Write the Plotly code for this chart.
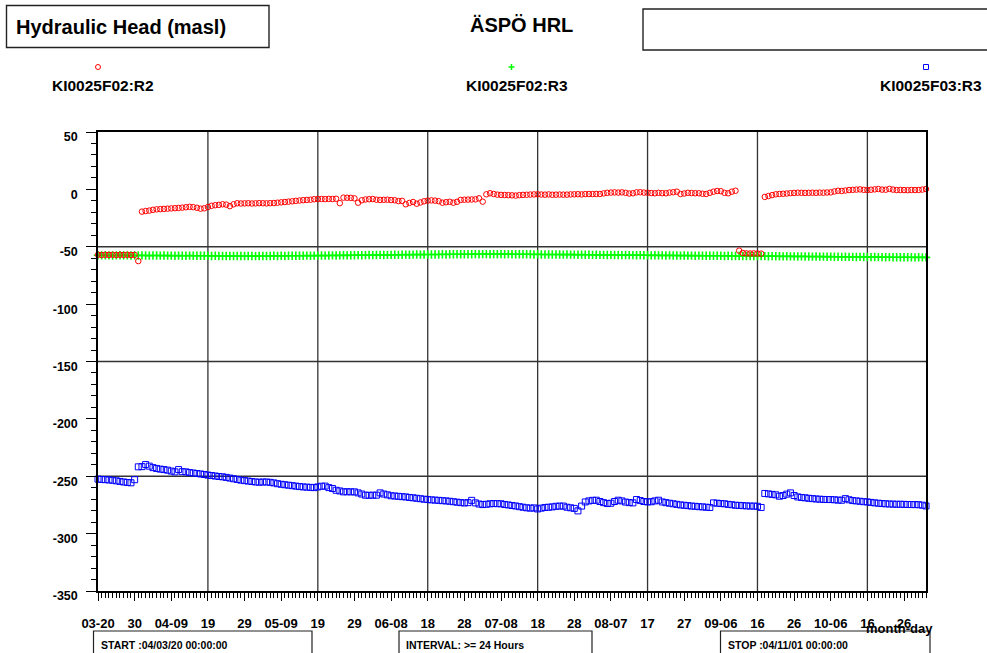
import pandas as pd
import plotly.graph_objects as go

START_DATE = "2004-03-20"
END_DATE = "2004-11-01"

# Daily hydraulic head values (masl), 2004-03-20 .. 2004-11-01
R2_F02 = [
    -57.0, -57.2, -57.0, -57.1, -57.0, -57.2, -57.0, -57.1, -57.0, -57.2, -57.1,
    -62.5,
    -19.4, -18.9, -18.5, -17.8, -17.4, -17.2, -17.0, -16.8, -16.6, -16.4,
    -16.2, -15.9, -15.6, -15.2, -15.5, -16.0, -16.8, -16.5, -15.4,
    -14.3, -13.8, -13.5, -13.0, -13.3, -14.6, -13.0, -12.1, -12.3, -12.2,
    -12.1, -12.3, -12.2, -12.0, -12.1, -12.2, -12.0, -11.9, -11.6, -11.3,
    -11.0, -10.7, -10.4, -10.0, -9.7, -9.4, -9.2, -9.0, -8.6, -8.4,
    -8.4, -8.5, -8.3, -8.4, -8.2, -12.0, -7.2, -7.3, -7.4, -7.8,
    -11.6, -9.5, -8.8, -8.6, -8.4, -9.0, -9.2, -9.1, -9.0, -9.3,
    -9.5, -10.2, -10.0, -13.0, -11.8, -11.0, -12.5, -11.4, -10.4, -9.8,
    -9.6, -9.8, -10.3, -11.6, -11.2, -10.8, -11.6, -10.8, -9.2, -9.0,
    -8.9, -8.8, -8.7, -7.8, -10.7, -4.3, -3.4, -4.0, -4.6, -4.8, -4.9,
    -5.0, -5.2, -5.4, -5.0, -4.8, -4.7, -4.5, -4.4, -4.3,
    -4.5, -4.6, -4.4, -4.7, -4.6, -4.5, -4.6, -4.6, -4.4, -4.3,
    -4.2, -4.4, -4.1, -4.0, -4.1, -4.0, -4.0, -3.5, -3.0, -2.8,
    -2.6, -2.8, -2.6, -3.0, -3.6, -3.4, -2.6, -2.5, -2.8, -2.9,
    -3.2, -3.4, -3.0, -3.3, -3.4, -2.8, -2.5, -2.0, -4.0, -3.6,
    -3.0, -3.2, -3.4, -3.4, -3.8, -4.0, -3.0, -2.0, -1.4, -1.6,
    -3.0, -3.4, -2.0, -1.2,
    -53.4, -55.4, -55.8, -55.9, -55.8, -55.9, -56.0,
    -6.6, -5.8, -5.0, -4.3, -4.0, -3.8, -3.6, -3.3, -3.1,
    -2.9, -3.0, -3.1, -3.0, -2.9, -3.0, -2.8, -2.9, -2.7, -2.6,
    -1.8, -1.2, -1.4, -1.0, -0.6, -0.4, -0.2, 0.0, -0.4, -0.6,
    -0.3, 0.0, 0.3, -0.2, -0.3, 0.4, -0.2, -0.6, -0.5, -0.6,
    -0.7, -0.5, -0.6, -0.5, -0.2, 0.3,
]

R3_F02 = [
    -57.4, -57.5, -57.4, -57.5, -57.6, -57.5, -57.4, -57.5, -57.5, -57.6,
    -57.5, -57.6, -57.5, -57.6, -57.7, -57.6, -57.6, -57.7, -57.6, -57.7,
    -57.7, -57.8, -57.7, -57.8, -57.8, -57.7, -57.8, -57.9, -57.8, -57.9,
    -57.9, -58.0, -57.9, -58.0, -58.0, -58.1, -58.0, -58.1, -58.0, -58.1,
    -58.1, -58.0, -58.1, -58.2, -58.1, -58.0, -58.1, -58.0, -57.9, -58.0,
    -57.9, -58.0, -57.9, -57.8, -57.9, -57.8, -57.8, -57.7, -57.8, -57.7,
    -57.7, -57.6, -57.7, -57.6, -57.5, -57.6, -57.5, -57.4, -57.5, -57.4,
    -57.4, -57.3, -57.4, -57.3, -57.2, -57.3, -57.2, -57.1, -57.2, -57.1,
    -57.1, -57.0, -57.1, -57.0, -56.9, -57.0, -56.9, -56.8, -56.9, -56.8,
    -56.8, -56.7, -56.8, -56.7, -56.6, -56.7, -56.6, -56.6, -56.5, -56.6,
    -56.5, -56.6, -56.5, -56.4, -56.5, -56.4, -56.4, -56.5, -56.4, -56.5,
    -56.4, -56.5, -56.4, -56.5, -56.5, -56.6, -56.5, -56.6, -56.6, -56.7,
    -56.6, -56.7, -56.7, -56.8, -56.7, -56.8, -56.8, -56.9, -56.8, -56.9,
    -56.9, -57.0, -56.9, -57.0, -57.0, -57.1, -57.0, -57.1, -57.1, -57.2,
    -57.1, -57.2, -57.2, -57.3, -57.2, -57.3, -57.3, -57.4, -57.3, -57.4,
    -57.4, -57.5, -57.4, -57.5, -57.5, -57.6, -57.5, -57.6, -57.6, -57.7,
    -57.6, -57.7, -57.7, -57.8, -57.7, -57.8, -57.8, -57.9, -57.8, -57.9,
    -57.9, -58.0, -57.9, -58.0, -58.0, -58.1, -58.0, -58.1, -58.1, -58.2,
    -58.1, -58.2, -58.2, -58.3, -58.2, -58.3, -58.3, -58.4, -58.3, -58.4,
    -58.4, -58.5, -58.4, -58.5, -58.5, -58.6, -58.5, -58.6, -58.6, -58.7,
    -58.6, -58.7, -58.7, -58.8, -58.7, -58.8, -58.8, -58.9, -58.8, -58.9,
    -58.9, -59.0, -58.9, -59.0, -59.0, -59.1, -59.0, -59.1, -59.1, -59.2,
    -59.1, -59.2, -59.2, -59.3, -59.2, -59.3, -59.3,
]

R3_F03 = [
    -252.5, -252.8, -253.0, -253.2, -253.5, -254.0, -254.5, -255.0, -255.4, -255.7, -253.0,
    -241.8, -241.6, -239.8, -241.2, -242.5, -243.2, -243.8, -244.2, -244.7, -245.5,
    -246.2, -244.2, -246.0, -246.2, -246.8, -247.2, -247.6, -248.0, -248.5, -249.0,
    -249.4, -249.8, -250.2, -250.5, -251.0, -251.6, -252.2, -252.8, -253.4, -253.8,
    -254.2, -254.6, -255.0, -255.2, -255.0, -255.0, -255.3, -255.8, -256.5, -257.0,
    -257.4, -257.8, -258.2, -258.6, -259.0, -259.3, -259.5, -259.7, -259.9, -259.3,
    -258.7, -258.6, -259.9, -260.7, -262.2, -262.8, -263.6, -263.5, -263.6, -263.6,
    -264.5, -265.5, -266.5, -266.6, -266.5, -266.5, -264.5, -265.5, -266.2, -267.0,
    -267.2, -267.5, -267.8, -268.0, -268.5, -268.8, -269.2, -269.6, -270.0, -270.3,
    -270.6, -270.8, -271.0, -271.3, -271.5, -271.8, -272.2, -272.6, -273.0, -273.3,
    -273.0, -271.0, -273.2, -274.2, -274.7, -274.4, -274.0, -273.8, -273.9, -274.0,
    -274.6, -275.0, -275.5, -275.9, -276.5, -277.0, -277.5, -277.8, -277.6, -278.5,
    -277.8, -277.2, -277.0, -276.7, -276.2, -276.0, -276.0, -277.0, -277.5, -278.0,
    -280.2, -276.0, -272.4, -271.5, -271.0, -270.9, -272.0, -273.0, -273.8, -273.5,
    -272.0, -270.9, -271.5, -272.5, -273.0, -273.2, -270.3, -271.2, -272.0, -272.4,
    -272.2, -271.5, -270.9, -272.4, -273.0, -273.5, -274.0, -274.5, -275.0, -275.3,
    -275.6, -276.0, -276.2, -276.5, -276.7, -277.0, -277.2, -273.2, -273.5, -273.8,
    -274.0, -274.5, -274.8, -275.3, -275.4, -275.6, -275.8, -276.0, -276.0, -276.2, -277.2,
    -265.0, -265.4, -265.8, -266.2, -267.4, -266.8, -265.6, -264.5, -266.8,
    -268.0, -268.5, -268.8, -269.2, -269.5, -269.8, -270.0, -270.2, -270.3, -270.3,
    -270.5, -270.8, -270.9, -269.5, -270.5, -271.2, -271.5, -271.8, -272.2, -272.4,
    -272.8, -273.2, -273.5, -273.8, -274.0, -274.2, -274.3, -274.4, -274.4, -274.5,
    -274.6, -274.7, -274.7, -274.8, -275.2, -275.9,
]

SERIES_NAMES = ["KI0025F02:R2", "KI0025F02:R3", "KI0025F03:R3"]
X_TICK_LABELS = ["03-20", "30", "04-09", "19", "29", "05-09", "19", "29", "06-08",
                 "18", "28", "07-08", "18", "28", "08-07", "17", "27", "09-06",
                 "16", "26", "10-06", "16", "26"]
Y_TICKS = [-350, -300, -250, -200, -150, -100, -50, 0, 50]
Y_GRID = [-250, -150, -50]

FONT = "Liberation Sans, Arial, sans-serif"

def dates(n):
    return pd.date_range(START_DATE, periods=n, freq="D")

x_ticks = pd.date_range(START_DATE, periods=len(X_TICK_LABELS), freq="10D")
x_grid = pd.date_range(START_DATE, END_DATE, freq="30D")[1:]

# pixel -> paper helpers (plot area 98..926 x, 132..591 y)
L, R, T, B = 98, 926, 132, 591
def PX(x):
    return (x - L) / (R - L)
def PY(y):
    return (B - y) / (B - T)

fig = go.Figure()
fig.add_trace(go.Scatter(
    x=dates(len(R3_F02)), y=R3_F02, mode="markers", name=SERIES_NAMES[1],
    marker=dict(symbol="cross-thin-open", size=6, color="#00ff00",
                line=dict(color="#00ff00", width=1.6)),
    cliponaxis=False))
fig.add_trace(go.Scatter(
    x=dates(len(R2_F02)), y=R2_F02, mode="markers", name=SERIES_NAMES[0],
    marker=dict(symbol="circle-open", size=5.5, color="#ff0000", line=dict(color="#ff0000", width=1)),
    cliponaxis=False))
fig.add_trace(go.Scatter(
    x=dates(len(R3_F03)), y=R3_F03, mode="markers", name=SERIES_NAMES[2],
    marker=dict(symbol="square-open", size=6, color="#0000ff", line=dict(color="#0000ff", width=1)),
    cliponaxis=False))

shapes = []
for gx in x_grid:
    shapes.append(dict(type="line", xref="x", yref="paper", x0=gx, x1=gx, y0=0, y1=1,
                       line=dict(color="#333333", width=1.3), layer="below"))
for gy in Y_GRID:
    shapes.append(dict(type="line", xref="paper", yref="y", x0=0, x1=1, y0=gy, y1=gy,
                       line=dict(color="#333333", width=1.3), layer="below"))

# header boxes
shapes.append(dict(type="rect", xref="paper", yref="paper", x0=PX(6.5), x1=PX(269), y0=PY(5.5), y1=PY(47.5),
                   line=dict(color="#222", width=1.4)))
shapes.append(dict(type="rect", xref="paper", yref="paper", x0=PX(643), x1=PX(995), y0=PY(9), y1=PY(50),
                   line=dict(color="#222", width=1.4)))
# bottom info boxes
for bx0, bx1 in [(93.5, 312), (399, 592), (720.5, 930)]:
    shapes.append(dict(type="rect", xref="paper", yref="paper", x0=PX(bx0), x1=PX(bx1), y0=PY(631), y1=PY(660),
                       line=dict(color="#222", width=1.2)))

# legend markers
def pix_shape(kind, cx, cy, color, path=None):
    d = dict(type=kind, xref="paper", yref="paper", xsizemode="pixel", ysizemode="pixel",
             xanchor=PX(cx), yanchor=PY(cy), line=dict(color=color, width=1))
    if path:
        d["path"] = path
        d["line"]["width"] = 1.5
    else:
        d.update(x0=-2.5, x1=2.5, y0=-2.5, y1=2.5)
    return d

shapes.append(pix_shape("circle", 98, 67, "#ff0000"))
shapes.append(pix_shape("path", 511.5, 67, "#00ff00", path="M-3,0 L3,0 M0,-3 L0,3"))
shapes.append(pix_shape("rect", 926, 67, "#0000ff"))

def ann(text, x, y, size, xanchor="center", bold=True):
    return dict(text=text, xref="paper", yref="paper", x=PX(x), y=PY(y), xanchor=xanchor,
                yanchor="middle", showarrow=False,
                font=dict(family=FONT, size=size, color="black", weight="bold" if bold else "normal"))

annotations = [
    ann("Hydraulic Head (masl)", 14, 27, 20, xanchor="left"),
    ann("ÄSPÖ HRL", 521, 25, 20),
    ann(SERIES_NAMES[0], 103, 85, 15.5),
    ann(SERIES_NAMES[1], 517, 85, 15.5),
    ann(SERIES_NAMES[2], 931, 85, 15.5),
    ann("month-day", 899, 628, 13),
    ann("START :04/03/20 00:00:00", 99, 645, 10.5, xanchor="left"),
    ann("INTERVAL: >= 24 Hours", 404, 645, 10.5, xanchor="left"),
    ann("STOP :04/11/01 00:00:00", 726, 645, 10.5, xanchor="left"),
]

fig.update_layout(
    width=987, height=653,
    margin=dict(l=L, r=987 - R, t=T, b=653 - B, pad=0),
    paper_bgcolor="white", plot_bgcolor="white",
    showlegend=False,
    font=dict(family=FONT, color="black"),
    shapes=shapes,
    annotations=annotations,
)
fig.update_xaxes(
    type="date", range=[START_DATE, END_DATE],
    tickmode="array", tickvals=x_ticks, ticktext=X_TICK_LABELS,
    ticks="outside", ticklen=8, tickwidth=1, tickcolor="black",
    minor=dict(dtick=86400000, tick0=START_DATE, ticks="outside", ticklen=5, tickwidth=1,
               tickcolor="black", showgrid=False),
    showgrid=False, zeroline=False,
    showline=True, linecolor="black", linewidth=1.5, mirror=True,
    tickfont=dict(family=FONT, size=13, color="black", weight="bold"),
    ticklabelstandoff=12,
)
fig.update_yaxes(
    range=[-350, 50],
    tickmode="array", tickvals=Y_TICKS, ticktext=[str(v) for v in Y_TICKS],
    ticks="outside", ticklen=10, tickwidth=1, tickcolor="black",
    minor=dict(dtick=10, tick0=0, ticks="outside", ticklen=5, tickwidth=1,
               tickcolor="black", showgrid=False),
    showgrid=False, zeroline=False,
    showline=True, linecolor="black", linewidth=1.5, mirror=True,
    tickfont=dict(family=FONT, size=12.5, color="black", weight="bold"),
    ticklabelstandoff=6, ticklabelshift=5,
)

fig.write_html("out.html")
